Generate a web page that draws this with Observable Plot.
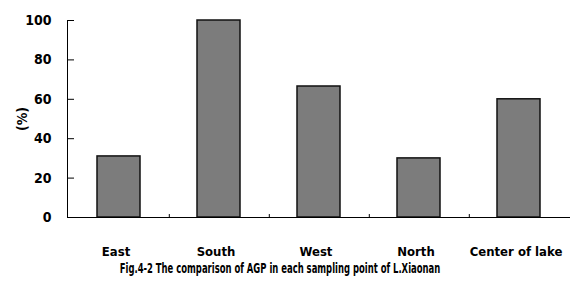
<!DOCTYPE html>
<html>
<head>
<meta charset="utf-8">
<script src="https://cdn.jsdelivr.net/npm/d3@7"></script>
<script src="https://cdn.jsdelivr.net/npm/@observablehq/plot@0.6"></script>
<style>
  html, body { margin: 0; padding: 0; background: #fff; }
  #chart { width: 570px; }
  #chart svg { display: block; }
  #chart svg text { font-stretch: condensed; }
  .cap { font-family: "DejaVu Sans Condensed", "DejaVu Sans", sans-serif; font-stretch: condensed; font-weight: bold;
         font-size: 14px; line-height: 15px; white-space: nowrap; width: 570px; text-align: center;
         transform: scaleX(0.67); transform-origin: 285px 0; margin-left: -5px; }
</style>
</head>
<body>
<div id="chart"></div>
<script>
const categories = ["East", "South", "West", "North", "Center of lake"];
const values = [31, 100, 66.5, 30, 60];
const yTicks = [0, 20, 40, 60, 80, 100];
const yLabel = "(%)";
const caption = "Fig.4-2 The comparison of AGP in each sampling point of L.Xiaonan";

const data = categories.map((c, i) => ({site: c, value: values[i]}));
const font = '"DejaVu Sans Condensed", "DejaVu Sans", sans-serif';

const chart = Plot.plot({
  width: 570,
  height: 261,
  marginTop: 20,
  marginBottom: 44,
  marginLeft: 67,
  marginRight: 0,
  style: {fontFamily: font, fontWeight: "bold", fontSize: "13px", color: "#000", background: "#fff"},
  x: {domain: categories, paddingInner: 0.575, paddingOuter: 0.2875, label: null},
  y: {domain: [0, 100], label: null},
  marks: [
    Plot.barY(data, {x: "site", y: "value", fill: "#7c7c7c", stroke: "#111", strokeWidth: 1.5}),
    Plot.ruleY([0], {stroke: "#000", strokeWidth: 1}),
    Plot.frame({anchor: "left", stroke: "#000", strokeWidth: 1}),
    Plot.ruleX(categories.slice(0, -1), {x: d => d, dx: 50.3, y1: 0, y2: 1.5, stroke: "#000"}),
    Plot.axisY({ticks: yTicks, tickSize: 7, dx: 7, tickFormat: () => "", label: null}),
    Plot.axisY({ticks: yTicks, tickSize: 0, tickPadding: 16, fontSize: 14, label: yLabel,
      labelAnchor: "center", labelArrow: "none", labelOffset: 50, tickFormat: d => d}),
    Plot.axisX({tickSize: 0, tickPadding: 29, fontSize: 13, dx: -3, label: null})
  ]
});
document.getElementById("chart").appendChild(chart);
const cap = document.createElement("div");
cap.className = "cap";
cap.textContent = caption;
document.body.appendChild(cap);
</script>
</body>
</html>
